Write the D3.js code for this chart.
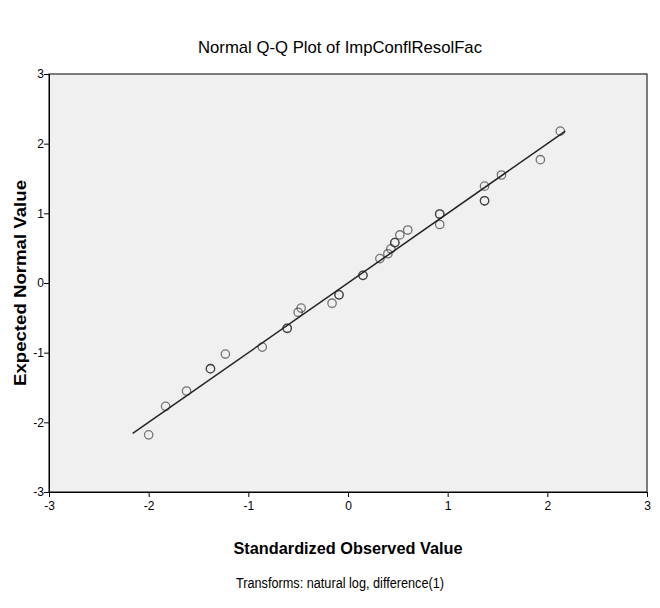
<!DOCTYPE html>
<html>
<head>
<meta charset="utf-8">
<script src="https://cdnjs.cloudflare.com/ajax/libs/d3/7.8.5/d3.min.js"></script>
<style>
  body { margin: 0; background: #fff; }
  text { font-family: "Liberation Sans", Arial, sans-serif; }
</style>
</head>
<body>
<div id="chart"></div>
<script>
// observed (standardized) vs expected normal values
const obsValues = [-2.00, -1.83, -1.62, -1.38, -1.38, -1.23, -0.86, -0.61, -0.61, -0.50, -0.47,
  -0.16, -0.09, -0.09, 0.15, 0.15, 0.32, 0.40, 0.43, 0.47, 0.47, 0.52, 0.60,
  0.92, 0.92, 0.92, 1.37, 1.37, 1.37, 1.54, 1.93, 2.13];
const expValues = [-2.18, -1.77, -1.55, -1.23, -1.23, -1.02, -0.92, -0.65, -0.65, -0.42, -0.36,
  -0.29, -0.17, -0.17, 0.11, 0.11, 0.35, 0.42, 0.49, 0.58, 0.58, 0.69, 0.76,
  0.99, 0.99, 0.84, 1.39, 1.18, 1.18, 1.55, 1.77, 2.18];
const lineEnds = [-2.16, 2.18];
const tickValues = [-3, -2, -1, 0, 1, 2, 3];

const w = 660, h = 608;
const pLeft = 49, pRight = 647, pTop = 74, pBottom = 492;

const svg = d3.select('#chart').append('svg')
  .attr('width', w)
  .attr('height', h);

const x = d3.scaleLinear().domain([-3, 3]).range([pLeft, pRight]);
const y = d3.scaleLinear().domain([-3, 3]).range([pBottom, pTop]);

// plot background
svg.append('rect')
  .attr('x', pLeft).attr('y', pTop)
  .attr('width', pRight - pLeft).attr('height', pBottom - pTop)
  .attr('fill', '#f0f0f0')
  .attr('stroke', '#000')
  .attr('stroke-width', 1);

const fmt = d => String(d); // plain hyphen, no decimals
const xAxis = d3.axisBottom(x).tickValues(tickValues).tickFormat(fmt).tickSize(5).tickSizeOuter(0);
const yAxis = d3.axisLeft(y).tickValues(tickValues).tickFormat(fmt).tickSize(5).tickSizeOuter(0);

const gx = svg.append('g')
  .attr('transform', 'translate(0,' + pBottom + ')')
  .call(xAxis);
const gy = svg.append('g')
  .attr('transform', 'translate(' + pLeft + ',0)')
  .call(yAxis);

[gx, gy].forEach(g => {
  g.select('.domain').attr('stroke', '#000');
  g.selectAll('.tick line').attr('stroke', '#000');
  g.selectAll('.tick text')
    .attr('fill', '#000')
    .style('font-size', '12px')
    .style('font-family', '"Liberation Sans", Arial, sans-serif');
});
gx.selectAll('.tick text').attr('dy', '0.85em');
gy.selectAll('.tick text').attr('x', -5);

// reference line
svg.append('line')
  .attr('x1', x(lineEnds[0])).attr('y1', y(lineEnds[0]))
  .attr('x2', x(lineEnds[1])).attr('y2', y(lineEnds[1]))
  .attr('stroke', '#222')
  .attr('stroke-width', 1.5);

// points
svg.selectAll('circle.pt')
  .data(obsValues)
  .enter()
  .append('circle')
  .attr('class', 'pt')
  .attr('cx', d => x(d))
  .attr('cy', (d, i) => y(expValues[i]))
  .attr('r', 4.2)
  .attr('fill', 'none')
  .attr('stroke', '#222')
  .attr('stroke-opacity', 0.6)
  .attr('stroke-width', 1.3);

// titles
svg.append('text')
  .attr('x', 340).attr('y', 53)
  .attr('text-anchor', 'middle')
  .attr('textLength', 284)
  .attr('lengthAdjust', 'spacingAndGlyphs')
  .style('font-size', '17px')
  .text('Normal Q-Q Plot of ImpConflResolFac');

svg.append('text')
  .attr('x', 348).attr('y', 554)
  .attr('text-anchor', 'middle')
  .attr('textLength', 229)
  .attr('lengthAdjust', 'spacingAndGlyphs')
  .style('font-size', '17px')
  .style('font-weight', 'bold')
  .text('Standardized Observed Value');

svg.append('text')
  .attr('transform', 'translate(26,' + ((pTop + pBottom) / 2) + ') rotate(-90)')
  .attr('text-anchor', 'middle')
  .attr('textLength', 206)
  .attr('lengthAdjust', 'spacingAndGlyphs')
  .style('font-size', '16px')
  .style('font-weight', 'bold')
  .text('Expected Normal Value');

svg.append('text')
  .attr('x', 340).attr('y', 588)
  .attr('text-anchor', 'middle')
  .attr('textLength', 208)
  .attr('lengthAdjust', 'spacingAndGlyphs')
  .style('font-size', '14px')
  .text('Transforms: natural log, difference(1)');
</script>
</body>
</html>
